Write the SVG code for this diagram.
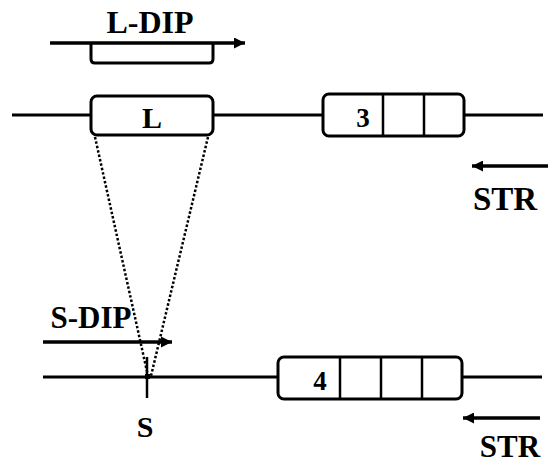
<svg xmlns="http://www.w3.org/2000/svg" width="548" height="465" viewBox="0 0 548 465">
<defs>
<marker id="ah" viewBox="0 0 10 10" refX="10" refY="5" markerWidth="14" markerHeight="11" markerUnits="userSpaceOnUse" orient="auto">
<path d="M0,0 L10,5 L0,10 Z" fill="#000"/>
</marker>
<style>
.ln{stroke:#000;stroke-width:3;fill:none}
.bx{stroke:#000;stroke-width:3;fill:#fff}
.dv{stroke:#000;stroke-width:2.5}
.ar{stroke:#000;stroke-width:3.5;fill:none}
.ds{stroke:#000;stroke-width:2.5;stroke-dasharray:2.5 2;fill:none}
.t{font-family:"Liberation Serif","Times New Roman",serif;font-weight:bold;fill:#000}
</style>
</defs>
<rect width="548" height="465" fill="#fff"/>
<g id="connectors">
<line class="ln" x1="12" y1="115" x2="91" y2="115"/>
<line class="ln" x1="213" y1="115" x2="323" y2="115"/>
<line class="ln" x1="464" y1="115" x2="543" y2="115"/>
<line class="ln" x1="43" y1="377" x2="278" y2="377"/>
<line class="ln" x1="462" y1="377" x2="542" y2="377"/>
<line class="ds" x1="95" y1="137" x2="148" y2="376"/>
<line class="ds" x1="208" y1="137" x2="151" y2="376"/>
</g>
<g id="ldip">
<path class="ln" d="M91,43 V59 Q91,63 95,63 H209 Q213,63 213,59 V43"/>
<line class="ar" x1="50" y1="43" x2="245" y2="43" marker-end="url(#ah)"/>
<text class="t" x="150" y="33" font-size="32" text-anchor="middle">L-DIP</text>
</g>
<g id="L">
<rect class="bx" x="91" y="96" width="122" height="39" rx="6"/>
<text class="t" x="152" y="128" font-size="30" text-anchor="middle">L</text>
</g>
<g id="box3">
<rect class="bx" x="323" y="94" width="141" height="42" rx="6"/>
<line class="dv" x1="383" y1="94" x2="383" y2="136"/>
<line class="dv" x1="424" y1="94" x2="424" y2="136"/>
<text class="t" x="363" y="127" font-size="27" text-anchor="middle">3</text>
</g>
<g id="str1">
<line class="ar" x1="548" y1="166" x2="472" y2="166" marker-end="url(#ah)"/>
<text class="t" x="505" y="210" font-size="33" text-anchor="middle">STR</text>
</g>
<g id="sdip">
<line class="ar" x1="43" y1="342" x2="172" y2="342" marker-end="url(#ah)"/>
<text class="t" x="91" y="328" font-size="31" text-anchor="middle">S-DIP</text>
</g>
<g id="S">
<line class="dv" x1="147" y1="357" x2="147" y2="398"/>
<rect x="145" y="374" width="5" height="5" fill="#000"/>
<text class="t" x="145" y="437" font-size="30" text-anchor="middle">S</text>
</g>
<g id="box4">
<rect class="bx" x="278" y="357" width="184" height="42" rx="6"/>
<line class="dv" x1="340" y1="357" x2="340" y2="399"/>
<line class="dv" x1="381" y1="357" x2="381" y2="399"/>
<line class="dv" x1="422" y1="357" x2="422" y2="399"/>
<text class="t" x="320" y="390" font-size="27" text-anchor="middle">4</text>
</g>
<g id="str2">
<line class="ar" x1="540" y1="418" x2="463" y2="418" marker-end="url(#ah)"/>
<text class="t" x="510" y="457" font-size="31" text-anchor="middle">STR</text>
</g>
</svg>
